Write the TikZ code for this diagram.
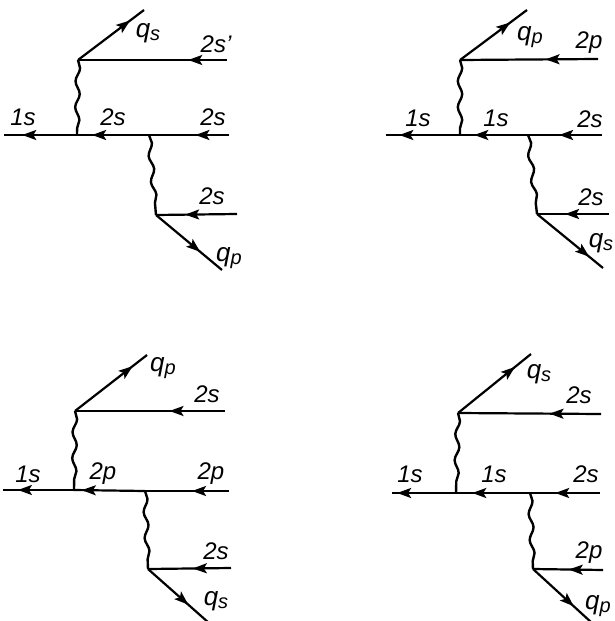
\documentclass[tikz,border=0pt]{standalone}
\usepackage{fontspec}
\setmainfont{Liberation Sans}
\usepackage{tikz}
\usetikzlibrary{arrows.meta, decorations.markings, decorations.pathmorphing}
\newcommand{\qsub}[1]{{\fontsize{26}{26}\selectfont q}\raisebox{-.25ex}{\fontsize{20}{20}\selectfont #1}}

\begin{document}
\begin{tikzpicture}[
    x=1pt, y=-1pt,
    line/.style={line width=2.2pt, decoration={markings, mark=at position #1 with {\arrow{Stealth[length=14pt, width=10pt, inset=3pt]}}}, postaction={decorate}},
    wave/.style={line width=2.4pt, decorate, decoration={snake, amplitude=2.2pt, segment length=26pt}},
    lab/.style={font=\itshape\fontsize{24}{24}\selectfont, inner sep=0pt}
]
\useasboundingbox (0,0) rectangle (614,621);

\coordinate (v1) at (78,60);
\coordinate (qa1) at (144,10);
\coordinate (ra1) at (227,60);
\coordinate (l1) at (4,135);
\coordinate (a1) at (77,135);
\coordinate (b1) at (149,135);
\coordinate (r1) at (229,135);
\coordinate (w1) at (156,215);
\coordinate (rb1) at (237,214);
\coordinate (qb1) at (222,270);
\draw[line=0.79] (v1) -- (qa1);
\draw[line=0.26] (ra1) -- (v1);
\draw[line=0.42] (r1) -- (b1);
\draw[line=0.79] (b1) -- (a1);
\draw[line=0.75] (a1) -- (l1);
\draw[line=0.64] (rb1) -- (w1);
\draw[line=0.67] (w1) -- (qb1);
\draw[wave] (v1) -- (a1);
\draw[wave] (b1) -- (w1);
\node[lab] (qsa) at (148,33) {\qsub{s}};
\node[lab] (sa) at (216,44) {2s'};
\node[lab] (sb) at (23,117) {1s};
\node[lab] (sc) at (113,117) {2s};
\node[lab] (sd) at (213,117) {2s};
\node[lab] (se) at (212,196) {2s};
\node[lab] (qpa) at (229,258) {\qsub{p}};

\coordinate (v2) at (460,60);
\coordinate (qa2) at (527,10);
\coordinate (ra2) at (598,59);
\coordinate (l2) at (386,135);
\coordinate (a2) at (460,135);
\coordinate (b2) at (528,135);
\coordinate (r2) at (602,135);
\coordinate (w2) at (537,214);
\coordinate (rb2) at (609,214);
\coordinate (qb2) at (603,268);
\draw[line=0.75] (v2) -- (qa2);
\draw[line=0.38] (ra2) -- (v2);
\draw[line=0.58] (r2) -- (b2);
\draw[line=0.79] (b2) -- (a2);
\draw[line=0.82] (a2) -- (l2);
\draw[line=0.61] (rb2) -- (w2);
\draw[line=0.79] (w2) -- (qb2);
\draw[wave] (v2) -- (a2);
\draw[wave] (b2) -- (w2);
\node[lab] (qpb) at (530,37) {\qsub{p}};
\node[lab] (pb) at (589,43) {2p};
\node[lab] (sf) at (418,118) {1s};
\node[lab] (sg) at (496,118) {1s};
\node[lab] (sh) at (590,119) {2s};
\node[lab] (si) at (591,197) {2s};
\node[lab] (qsb) at (601,243) {\qsub{s}};

\coordinate (v3) at (75,411);
\coordinate (qa3) at (147,355);
\coordinate (ra3) at (225,411);
\coordinate (l3) at (3,490);
\coordinate (a3) at (74,490);
\coordinate (b3) at (145,491);
\coordinate (r3) at (229,491);
\coordinate (w3) at (148,569);
\coordinate (rb3) at (231,568);
\coordinate (qb3) at (209,623);
\draw[line=0.8] (v3) -- (qa3);
\draw[line=0.37] (ra3) -- (v3);
\draw[line=0.44] (r3) -- (b3);
\draw[line=0.89] (b3) -- (a3);
\draw[line=0.79] (a3) -- (l3);
\draw[line=0.46] (rb3) -- (w3);
\draw[line=0.66] (w3) -- (qb3);
\draw[wave] (v3) -- (a3);
\draw[wave] (b3) -- (w3);
\node[lab] (qpc) at (163,368) {\qsub{p}};
\node[lab] (sj) at (207,394) {2s};
\node[lab] (sk) at (28,474) {1s};
\node[lab] (pc) at (103,474) {2p};
\node[lab] (pd) at (211,474) {2p};
\node[lab] (sl) at (216,551) {2s};
\node[lab] (qsc) at (216,601) {\qsub{s}};

\coordinate (v4) at (458,413);
\coordinate (qa4) at (531,354);
\coordinate (ra4) at (601,414);
\coordinate (l4) at (392,493);
\coordinate (a4) at (456,493);
\coordinate (b4) at (530,493);
\coordinate (r4) at (600,493);
\coordinate (w4) at (533,569);
\coordinate (rb4) at (603,570);
\coordinate (qb4) at (592,623);
\draw[line=0.78] (v4) -- (qa4);
\draw[line=0.36] (ra4) -- (v4);
\draw[line=0.64] (r4) -- (b4);
\draw[line=0.78] (b4) -- (a4);
\draw[line=0.92] (a4) -- (l4);
\draw[line=0.49] (rb4) -- (w4);
\draw[line=0.69] (w4) -- (qb4);
\draw[wave] (v4) -- (a4);
\draw[wave] (b4) -- (w4);
\node[lab] (qsd) at (539,374) {\qsub{s}};
\node[lab] (sm) at (579,395) {2s};
\node[lab] (sn) at (410,474) {1s};
\node[lab] (so) at (494,474) {1s};
\node[lab] (sp) at (586,474) {2s};
\node[lab] (pe) at (589,553) {2p};
\node[lab] (qpd) at (598,606) {\qsub{p}};
\end{tikzpicture}
\end{document}
